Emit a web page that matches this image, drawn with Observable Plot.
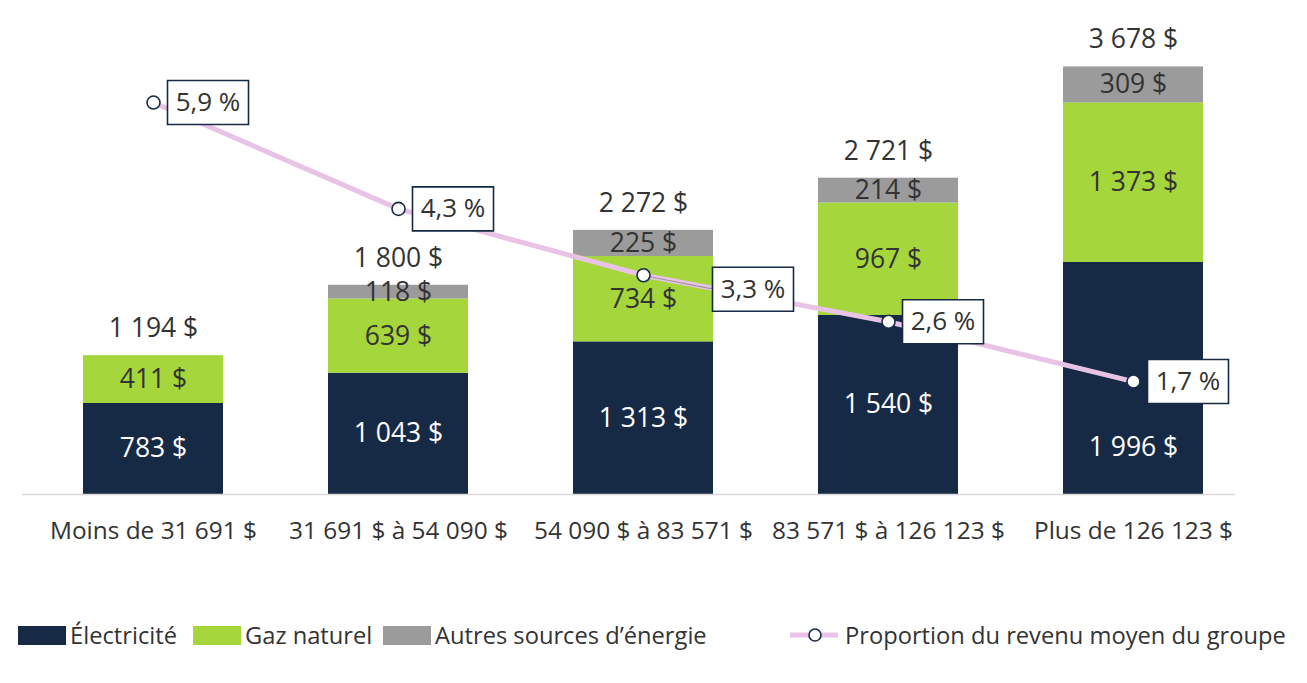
<!DOCTYPE html>
<html>
<head>
<meta charset="utf-8">
<script src="https://cdn.jsdelivr.net/npm/d3@7"></script>
<script src="https://cdn.jsdelivr.net/npm/@observablehq/plot@0.6"></script>
<style>
  html, body { margin: 0; padding: 0; background: #fff; }
  body { width: 1307px; height: 683px; overflow: hidden; font-family: "Open Sans", sans-serif; }
  #chart svg { display: block; }
  #legend { position: relative; height: 103px; color: #333; font-size: 23.7px; }
  .item { position: absolute; top: 39px; display: flex; align-items: center; white-space: nowrap; }
  .sw { width: 48px; height: 19px; margin-right: 4px; }
</style>
</head>
<body>
<div id="chart"></div>
<div id="legend"></div>
<script>
const categories = ["Moins de 31 691 $", "31 691 $ à 54 090 $", "54 090 $ à 83 571 $", "83 571 $ à 126 123 $", "Plus de 126 123 $"];
const electricite = [783, 1043, 1313, 1540, 1996];
const gazNaturel = [411, 639, 734, 967, 1373];
const autres = [0, 118, 225, 214, 309];
const totals = [1194, 1800, 2272, 2721, 3678];
const proportion = [5.9, 4.3, 3.3, 2.6, 1.7];
const seriesNames = ["Électricité", "Gaz naturel", "Autres sources d’énergie"];
const seriesColors = ["#172A45", "#A5D63B", "#9B9B9B"];
const lineName = "Proportion du revenu moyen du groupe";

// axis maxima (primary $ axis and secondary % axis share the plot height)
const yMax = 4000;
const pctMax = 7;

const loc = d3.formatLocale({decimal: ",", thousands: "\u00a0", grouping: [3], currency: ["", "\u00a0$"]});
const fmtDollar = loc.format("$,.0f");
const fmtPct = v => loc.format(".1f")(v) + "\u00a0%";

const seriesValues = [electricite, gazNaturel, autres];
const bars = [];
seriesValues.forEach((vals, s) => {
  vals.forEach((v, i) => {
    if (v > 0) bars.push({cat: categories[i], serie: seriesNames[s], value: v});
  });
});
const totalData = categories.map((c, i) => ({cat: c, total: totals[i]}));
const pctData = categories.map((c, i) => ({cat: c, pct: proportion[i], y: proportion[i] * yMax / pctMax}));

const boxSymbol = {draw(ctx) { ctx.rect(14, -22, 81, 44); }};
const boxSymbolShifted = {draw(ctx) { ctx.rect(69, -8, 81, 44); }};
const leader = {draw(ctx) { ctx.moveTo(6, 1.5); ctx.lineTo(66, 13); ctx.lineTo(69, 13); }};

const shifted = d => d.cat === categories[2];
// the label of the last electricity segment sits lower, clear of the line label
const movedLabel = d => d.serie === seriesNames[0] && d.cat === categories[4];
const textColor = "#333333";

const plot = Plot.plot({
  width: 1307,
  height: 580,
  marginTop: 29,
  marginBottom: 86,
  marginLeft: 30,
  marginRight: 51,
  style: {fontFamily: "Open Sans, sans-serif", color: textColor, background: "#fff"},
  x: {domain: categories, paddingInner: 0.43, paddingOuter: 0.215, label: null},
  y: {domain: [0, yMax], axis: null},
  color: {domain: seriesNames, range: seriesColors},
  marks: [
    Plot.barY(bars, Plot.stackY({x: "cat", y: "value", fill: "serie", order: null})),
    Plot.ruleY([0], {stroke: "#D9D9D9", strokeWidth: 1.5, insetLeft: -8, insetRight: 21}),
    Plot.axisX({tickSize: 0, tickPadding: 27, fontSize: 24.4, fill: textColor}),
    Plot.text(bars, Plot.stackY({
      x: "cat", y: "value", z: "serie", order: null,
      text: d => movedLabel(d) ? "" : fmtDollar(d.value),
      fill: d => d.serie === seriesNames[0] ? "#ffffff" : textColor,
      fontSize: 26.5
    })),
    Plot.text(bars, Plot.stackY({
      x: "cat", y: "value", z: "serie", order: null,
      text: d => movedLabel(d) ? fmtDollar(d.value) : "",
      fill: "#ffffff", dy: 69,
      fontSize: 26.5
    })),
    Plot.line(pctData, {x: "cat", y: "y", stroke: "#E9C3E5", strokeWidth: 5}),
    Plot.dot(pctData.filter(shifted), {x: "cat", y: "y", symbol: leader, fill: "none", stroke: "#9a9a9a", strokeWidth: 1.2}),
    Plot.dot(pctData, {x: "cat", y: "y", r: 6.5, fill: "white", stroke: "#172A45", strokeWidth: 1.6}),
    Plot.dot(pctData.filter(d => !shifted(d)), {x: "cat", y: "y", symbol: boxSymbol, fill: "white", stroke: "#172A45", strokeWidth: 1.6}),
    Plot.dot(pctData.filter(shifted), {x: "cat", y: "y", symbol: boxSymbolShifted, fill: "white", stroke: "#172A45", strokeWidth: 1.6}),
    Plot.text(pctData.filter(d => !shifted(d)), {x: "cat", y: "y", text: d => fmtPct(d.pct), dx: 54.5, fontSize: 26, fill: textColor}),
    Plot.text(pctData.filter(shifted), {x: "cat", y: "y", text: d => fmtPct(d.pct), dx: 109.5, dy: 14, fontSize: 26, fill: textColor}),
    Plot.text(totalData, {x: "cat", y: "total", text: d => fmtDollar(d.total), dy: -27, fontSize: 26.5, fill: textColor})
  ]
});
document.getElementById("chart").appendChild(plot);

// legend
const legend = document.getElementById("legend");
const lefts = [18, 193, 383];
seriesNames.forEach((name, i) => {
  const it = document.createElement("div");
  it.className = "item";
  it.style.left = lefts[i] + "px";
  it.innerHTML = `<span class="sw" style="background:${seriesColors[i]}"></span><span>${name}</span>`;
  legend.appendChild(it);
});
const li = document.createElement("div");
li.className = "item";
li.style.left = "788px";
li.innerHTML = `<svg width="52" height="20" style="margin-right:5px"><line x1="2" y1="10" x2="50" y2="10" stroke="#E9C3E5" stroke-width="5"/><circle cx="27" cy="10" r="6" fill="white" stroke="#172A45" stroke-width="1.6"/></svg><span>${lineName}</span>`;
legend.appendChild(li);
</script>
</body>
</html>
